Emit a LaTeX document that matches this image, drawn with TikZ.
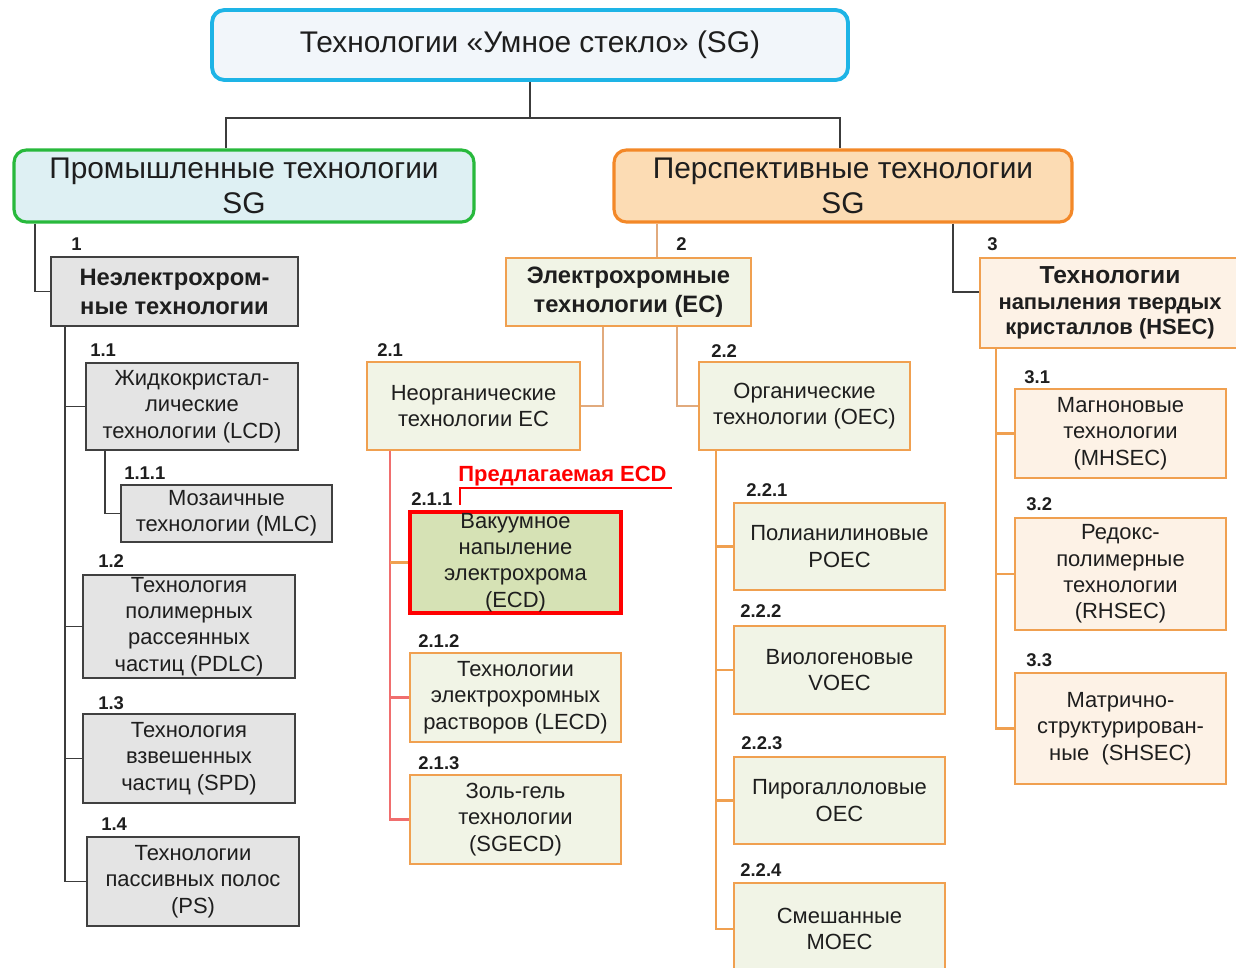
\documentclass[tikz,border=0pt]{standalone}
\usepackage{fontspec}
\setmainfont{Liberation Sans}
\usetikzlibrary{positioning, calc}

\definecolor{sgcyan}{RGB}{30, 180, 230}
\definecolor{titlefill}{RGB}{242, 246, 250}
\definecolor{sggreen}{RGB}{40, 185, 60}
\definecolor{promfill}{RGB}{222, 240, 243}
\definecolor{sgorange}{RGB}{243, 136, 40}
\definecolor{perspfill}{RGB}{252, 220, 180}
\definecolor{boxgrey}{RGB}{64, 64, 64}
\definecolor{fillgrey}{RGB}{228, 228, 228}
\definecolor{ecline}{RGB}{240, 160, 80}
\definecolor{ecfill}{RGB}{241, 244, 230}
\definecolor{hsfill}{RGB}{253, 242, 230}
\definecolor{ecdfill}{RGB}{214, 226, 181}
\definecolor{sgred}{RGB}{255, 0, 0}
\definecolor{linkgrey}{RGB}{60, 60, 60}
\definecolor{tanline}{RGB}{225, 170, 125}
\definecolor{pinkline}{RGB}{240, 110, 110}
\definecolor{txtdark}{RGB}{30, 30, 30}

\tikzset{
  topbox/.style={draw=sgcyan, fill=titlefill, line width=2.2pt, rounded corners=7pt,
    minimum width=12.72cm, minimum height=1.4cm, text=txtdark,
    font=\fontsize{17}{20}\selectfont},
  branchbox/.style={line width=1.8pt, rounded corners=7pt, minimum width=9.2cm,
    minimum height=1.44cm, align=center, inner sep=0pt, text=txtdark,
    font=\fontsize{17}{20}\selectfont},
  greybox/.style={draw=boxgrey, fill=fillgrey, line width=1.1pt, minimum width=4.24cm,
    align=center, inner sep=0pt, text=txtdark, font=\fontsize{12.5}{15}\selectfont},
  ecbox/.style={draw=ecline, fill=ecfill, line width=1pt, minimum width=4.22cm,
    align=center, inner sep=0pt, text=txtdark, font=\fontsize{12.5}{15}\selectfont},
  hsbox/.style={ecbox, fill=hsfill},
  headbold/.style={font=\bfseries\fontsize{13.5}{16.5}\selectfont},
  numlbl/.style={anchor=base west, inner sep=0pt, text=txtdark,
    font=\bfseries\fontsize{10.5}{12}\selectfont},
  link/.style={draw=linkgrey, line width=1pt},
  tanlink/.style={draw=tanline, line width=1.2pt},
  orlink/.style={draw=ecline, line width=1.2pt},
  redlink/.style={draw=pinkline, line width=1.2pt},
}

\begin{document}
\begin{tikzpicture}[x=0.02cm, y=-0.02cm]
  \useasboundingbox (0,0) rectangle (1236,967);
  \clip (0,0) rectangle (1236,967);

  % Top
  \node[topbox] (title) at (530,45) {Технологии «Умное стекло» (SG)};
  \node[branchbox, draw=sggreen, fill=promfill] (prom) at (244,186)
    {Промышленные технологии\\SG};
  \node[branchbox, draw=sgorange, fill=perspfill, minimum width=9.16cm] (persp) at (843,186)
    {Перспективные технологии\\SG};

  \coordinate (jT) at (530,118);
  \coordinate (kL) at (226,118);
  \coordinate (kR) at (840,118);
  \draw[link] (title.south) -- (jT);
  \draw[link] (kL |- prom.north) -- (kL) -- (kR) -- (kR |- persp.north);

  % Branch 1
  \node[greybox, headbold, minimum width=4.94cm, minimum height=1.38cm] (n1) at (174.5,291.5)
    {Неэлектрохром-\\ные технологии};
  \node[greybox, minimum height=1.74cm] (lcd) at (192,406.5)
    {Жидкокристал-\\лические\\технологии (LCD)};
  \node[greybox, minimum width=4.22cm, minimum height=1.14cm] (mlc) at (226.5,513.5)
    {Мозаичные\\технологии (MLC)};
  \node[greybox, minimum height=2.06cm] (pdlc) at (189,626.5)
    {Технология\\полимерных\\рассеянных\\частиц (PDLC)};
  \node[greybox, minimum height=1.78cm] (spd) at (189,758.5)
    {Технология\\взвешенных\\частиц (SPD)};
  \node[greybox, minimum height=1.78cm] (ps) at (193,881.5)
    {Технологии\\пассивных полос\\(PS)};

  \node[numlbl] (l1) at (71,250) {1};
  \node[numlbl] (l11) at (90,356) {1.1};
  \node[numlbl] (l111) at (124,479) {1.1.1};
  \node[numlbl] (l12) at (98,567) {1.2};
  \node[numlbl] (l13) at (98,709) {1.3};
  \node[numlbl] (l14) at (101,830) {1.4};

  \coordinate (a1) at (35,0);
  \coordinate (a11) at (65,0);
  \coordinate (a111) at (105,0);
  \draw[link] (a1 |- prom.south) |- (n1.west);
  \draw[link] (a11 |- n1.south) |- (ps.west);
  \foreach \n in {lcd, pdlc, spd}
    \draw[link] (a11 |- \n.west) -- (\n.west);
  \draw[link] (a111 |- lcd.south) |- (mlc.west);

  % Branch 2
  \node[ecbox, headbold, minimum width=4.9cm, minimum height=1.36cm] (ec) at (628.5,292)
    {Электрохромные\\технологии (ЕС)};
  \node[ecbox, minimum width=4.26cm, minimum height=1.76cm] (inorg) at (473.5,406)
    {Неорганические\\технологии ЕС};
  \node[ecbox, minimum height=1.76cm] (org) at (804.5,406)
    {Органические\\технологии (ОЕС)};

  \node[ecbox, draw=sgred, fill=ecdfill, line width=2.2pt, minimum height=2.02cm] (ecd) at (515.5,562.5)
    {Вакуумное\\напыление\\электрохрома\\(ECD)};
  \node[ecbox, minimum height=1.78cm] (lecd) at (515.5,697.5)
    {Технологии\\электрохромных\\растворов (LECD)};
  \node[ecbox, minimum height=1.78cm] (sgecd) at (515.5,819.5)
    {Золь-гель\\технологии\\(SGECD)};

  \node[ecbox, minimum height=1.74cm] (poec) at (839.5,546.5)
    {Полианилиновые\\POEC};
  \node[ecbox, minimum height=1.76cm] (voec) at (839.5,670)
    {Виологеновые\\VOEC};
  \node[ecbox, minimum height=1.74cm] (pgoec) at (839.5,800.5)
    {Пирогаллоловые\\OEC};
  \node[ecbox, minimum height=1.84cm] (moec) at (839.5,929)
    {Смешанные\\MOEC};

  \node[numlbl] (l2) at (676,250) {2};
  \node[numlbl] (l21) at (377,356) {2.1};
  \node[numlbl] (l22) at (711,357) {2.2};
  \node[numlbl] (l211) at (411,505) {2.1.1};
  \node[numlbl] (l212) at (418,647) {2.1.2};
  \node[numlbl] (l213) at (418,769) {2.1.3};
  \node[numlbl] (l221) at (746,496) {2.2.1};
  \node[numlbl] (l222) at (740,617) {2.2.2};
  \node[numlbl] (l223) at (741,749) {2.2.3};
  \node[numlbl] (l224) at (740,876) {2.2.4};

  % Proposed
  \node[anchor=base west, inner sep=0pt, text=sgred, font=\bfseries\fontsize{12.5}{15}\selectfont]
    (prop) at (458,481) {Предлагаемая ECD};
  \coordinate (u1) at (460,488);
  \coordinate (u2) at (672,488);
  \coordinate (u3) at (460,505);
  \draw[draw=sgred, line width=0.8pt] (u2) -- (u1) -- (u3);

  \coordinate (a2) at (657,0);
  \coordinate (a21) at (603,0);
  \coordinate (a22) at (677,0);
  \coordinate (b21) at (390,0);
  \coordinate (b22) at (716,0);
  \draw[tanlink] (a2 |- persp.south) -- (a2 |- ec.north);
  \draw[tanlink] (a21 |- ec.south) |- (inorg.east);
  \draw[tanlink] (a22 |- ec.south) |- (org.west);
  \draw[redlink] (b21 |- inorg.south) |- (sgecd.west);
  \draw[orlink] (b21 |- ecd.west) -- (ecd.west);
  \draw[redlink] (b21 |- lecd.west) -- (lecd.west);
  \draw[orlink] (b22 |- org.south) |- (moec.west);
  \foreach \n in {poec, voec, pgoec}
    \draw[orlink] (b22 |- \n.west) -- (\n.west);

  % Branch 3
  \node[hsbox, minimum width=5.2cm, minimum height=1.8cm,
    font=\bfseries\fontsize{12.5}{14.5}\selectfont] (hsec) at (1110,303)
    {{\fontsize{14}{16.5}\selectfont Технологии}\\напыления твердых\\кристаллов (HSEC)};
  \node[hsbox, minimum height=1.78cm] (mhsec) at (1120.5,433.5)
    {Магноновые\\технологии\\(MHSEC)};
  \node[hsbox, minimum height=2.24cm] (rhsec) at (1120.5,574)
    {Редокс-\\полимерные\\технологии\\(RHSEC)};
  \node[hsbox, minimum height=2.22cm] (shsec) at (1120.5,728.5)
    {Матрично-\\структурирован-\\ные~~(SHSEC)};

  \node[numlbl] (l3) at (987,250) {3};
  \node[numlbl] (l31) at (1024,383) {3.1};
  \node[numlbl] (l32) at (1026,510) {3.2};
  \node[numlbl] (l33) at (1026,666) {3.3};

  \coordinate (j3) at (953,292);
  \coordinate (b3) at (996,0);
  \draw[link] (j3 |- persp.south) -- (j3) -- (j3 -| hsec.west);
  \draw[orlink] (b3 |- hsec.south) |- (shsec.west);
  \foreach \n in {mhsec, rhsec}
    \draw[orlink] (b3 |- \n.west) -- (\n.west);
\end{tikzpicture}
\end{document}
